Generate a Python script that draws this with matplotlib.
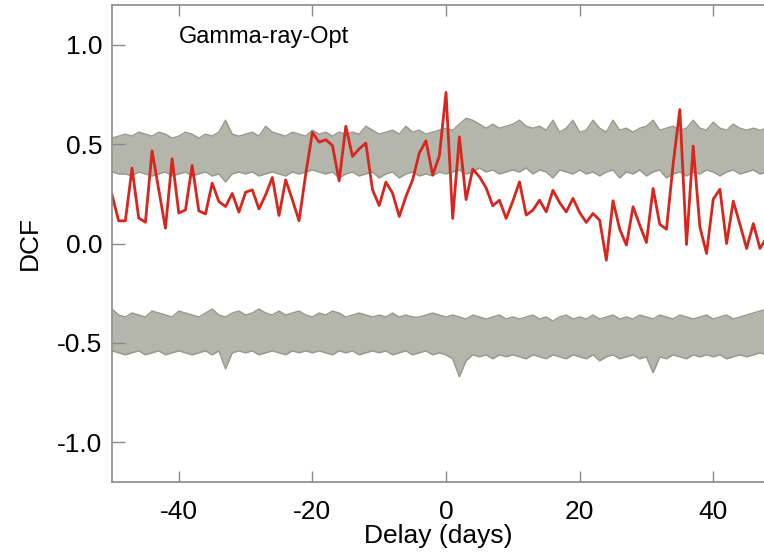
import matplotlib
matplotlib.use("Agg")
import matplotlib.pyplot as plt
import numpy as np

plt.rcParams['font.family'] = ['Liberation Sans', 'DejaVu Sans']

lags = list(range(-50, 49))

dcf = [0.245, 0.114, 0.114, 0.379, 0.128, 0.107, 0.466, 0.27, 0.077, 0.426,
       0.153, 0.169, 0.393, 0.164, 0.149, 0.304, 0.211, 0.186, 0.252, 0.158,
       0.258, 0.270, 0.174, 0.245, 0.332, 0.141, 0.320, 0.22, 0.114, 0.35,
       0.559, 0.51, 0.522, 0.493, 0.315, 0.59, 0.438, 0.476, 0.505, 0.27,
       0.191, 0.309, 0.253, 0.136, 0.237, 0.32, 0.455, 0.517, 0.345, 0.44,
       0.76, 0.126, 0.537, 0.221, 0.374, 0.336, 0.28, 0.19, 0.218, 0.126,
       0.213, 0.31, 0.143, 0.168, 0.218, 0.159, 0.268, 0.206, 0.159, 0.227,
       0.156, 0.106, 0.151, 0.117, -0.084, 0.215, 0.072, -0.008, 0.185, 0.092,
       0.005, 0.277, 0.096, 0.072, 0.40, 0.674, -0.005, 0.49, 0.084, -0.05,
       0.223, 0.273, 0.0, 0.213, 0.096, -0.025, 0.10, -0.025, 0.03]

# envelopes of the simulated (grey) curves, upper band
upper_top = [0.53, 0.54, 0.55, 0.54, 0.56, 0.55, 0.54, 0.56, 0.55, 0.53,
             0.54, 0.56, 0.55, 0.53, 0.55, 0.54, 0.56, 0.62, 0.55, 0.54,
             0.55, 0.56, 0.54, 0.59, 0.56, 0.55, 0.54, 0.56, 0.55, 0.54,
             0.57, 0.55, 0.56, 0.54, 0.56, 0.55, 0.56, 0.55, 0.59, 0.57,
             0.55, 0.56, 0.57, 0.55, 0.59, 0.56, 0.57, 0.55, 0.56, 0.57,
             0.58, 0.57, 0.60, 0.63, 0.62, 0.60, 0.58, 0.60, 0.58, 0.59,
             0.60, 0.62, 0.59, 0.58, 0.59, 0.57, 0.62, 0.56, 0.58, 0.62,
             0.56, 0.57, 0.62, 0.58, 0.56, 0.62, 0.57, 0.58, 0.56, 0.58,
             0.59, 0.62, 0.57, 0.58, 0.59, 0.57, 0.58, 0.62, 0.58, 0.57,
             0.61, 0.58, 0.57, 0.60, 0.58, 0.57, 0.58, 0.57, 0.58]
upper_bot = [0.36, 0.35, 0.35, 0.34, 0.36, 0.35, 0.34, 0.35, 0.36, 0.34,
             0.35, 0.36, 0.34, 0.35, 0.36, 0.34, 0.35, 0.31, 0.35, 0.36,
             0.35, 0.36, 0.34, 0.35, 0.36, 0.35, 0.34, 0.36, 0.35, 0.36,
             0.37, 0.36, 0.35, 0.36, 0.33, 0.35, 0.36, 0.34, 0.35, 0.36,
             0.33, 0.35, 0.36, 0.33, 0.35, 0.36, 0.34, 0.35, 0.34, 0.36,
             0.35, 0.36, 0.37, 0.35, 0.36, 0.38, 0.36, 0.37, 0.35, 0.36,
             0.37, 0.36, 0.38, 0.35, 0.37, 0.36, 0.33, 0.37, 0.36, 0.35,
             0.37, 0.35, 0.36, 0.34, 0.36, 0.37, 0.33, 0.36, 0.35, 0.37,
             0.34, 0.36, 0.37, 0.33, 0.35, 0.36, 0.34, 0.36, 0.35, 0.37,
             0.36, 0.34, 0.36, 0.37, 0.35, 0.36, 0.37, 0.35, 0.36]
# lower band
lower_top = [-0.33, -0.36, -0.37, -0.35, -0.36, -0.37, -0.34, -0.35, -0.36, -0.37,
             -0.34, -0.35, -0.36, -0.37, -0.35, -0.33, -0.36, -0.37, -0.35, -0.34,
             -0.36, -0.35, -0.33, -0.35, -0.36, -0.34, -0.36, -0.35, -0.34, -0.36,
             -0.37, -0.35, -0.36, -0.34, -0.35, -0.37, -0.36, -0.35, -0.36, -0.37,
             -0.36, -0.37, -0.35, -0.37, -0.36, -0.37, -0.37, -0.36, -0.35, -0.36,
             -0.37, -0.36, -0.37, -0.38, -0.36, -0.37, -0.38, -0.37, -0.36, -0.38,
             -0.37, -0.38, -0.37, -0.36, -0.38, -0.37, -0.39, -0.37, -0.36, -0.38,
             -0.37, -0.38, -0.36, -0.38, -0.37, -0.36, -0.38, -0.37, -0.38, -0.36,
             -0.37, -0.38, -0.36, -0.37, -0.38, -0.36, -0.37, -0.38, -0.37, -0.36,
             -0.38, -0.37, -0.36, -0.38, -0.37, -0.36, -0.35, -0.34, -0.33]
lower_bot = [-0.54, -0.55, -0.56, -0.55, -0.54, -0.56, -0.55, -0.54, -0.56, -0.55,
             -0.54, -0.55, -0.56, -0.55, -0.54, -0.56, -0.54, -0.63, -0.55, -0.54,
             -0.55, -0.54, -0.56, -0.55, -0.54, -0.55, -0.56, -0.54, -0.55, -0.54,
             -0.55, -0.54, -0.55, -0.56, -0.54, -0.55, -0.54, -0.56, -0.55, -0.54,
             -0.55, -0.54, -0.56, -0.55, -0.54, -0.56, -0.55, -0.54, -0.56, -0.55,
             -0.56, -0.58, -0.67, -0.59, -0.56, -0.57, -0.56, -0.58, -0.56, -0.57,
             -0.56, -0.57, -0.58, -0.56, -0.57, -0.58, -0.56, -0.57, -0.58, -0.56,
             -0.57, -0.58, -0.56, -0.59, -0.57, -0.56, -0.58, -0.57, -0.56, -0.58,
             -0.57, -0.65, -0.57, -0.58, -0.56, -0.57, -0.58, -0.56, -0.57, -0.56,
             -0.57, -0.56, -0.58, -0.57, -0.56, -0.57, -0.56, -0.55, -0.56]

xticks = [-40, -20, 0, 20, 40]
yticks = [-1.0, -0.5, 0.0, 0.5, 1.0]
ytick_labels = ['-1.0', '-0.5', '0.0', '0.5', '1.0']

grey_line = '#9a9b8f'
grey_fill = '#b5b6ab'
red = '#d8261e'

fig = plt.figure(figsize=(7.64, 5.53), dpi=100)
ax = fig.add_axes([112 / 764, 71 / 553, 1 - 112 / 764, 477 / 553])

for top, bot in [(upper_top, upper_bot), (lower_top, lower_bot)]:
    ax.fill_between(lags, bot, top, color=grey_fill, lw=0)
    ax.plot(lags, top, color=grey_line, lw=1.1)
    ax.plot(lags, bot, color=grey_line, lw=1.1)

ax.plot(lags, dcf, color=red, lw=2.0)

ax.set_xlim(-50, 47.6)
ax.set_ylim(-1.2, 1.2)
ax.set_xticks(xticks)
ax.set_xticklabels([str(t) for t in xticks])
ax.set_yticks(yticks)
ax.set_yticklabels(ytick_labels)

for side in ['left', 'bottom', 'top']:
    ax.spines[side].set_color('#8a8a8a')
    ax.spines[side].set_linewidth(1.2)
ax.spines['right'].set_visible(False)

ax.tick_params(axis='x', direction='in', length=8, width=1, color='#8a8a8a',
               labelsize=19, pad=13, top=True)
ax.tick_params(axis='y', direction='in', length=9.5, width=1, color='#8a8a8a',
               labelsize=19, pad=7)

ax.set_xlabel('Delay (days)', fontsize=19, labelpad=0)
ax.set_ylabel('DCF', fontsize=19, labelpad=11)

ax.text(-40, 1.04, 'Gamma-ray-Opt', fontsize=17, va='center', ha='left')

fig.savefig('out.png', dpi=100)
